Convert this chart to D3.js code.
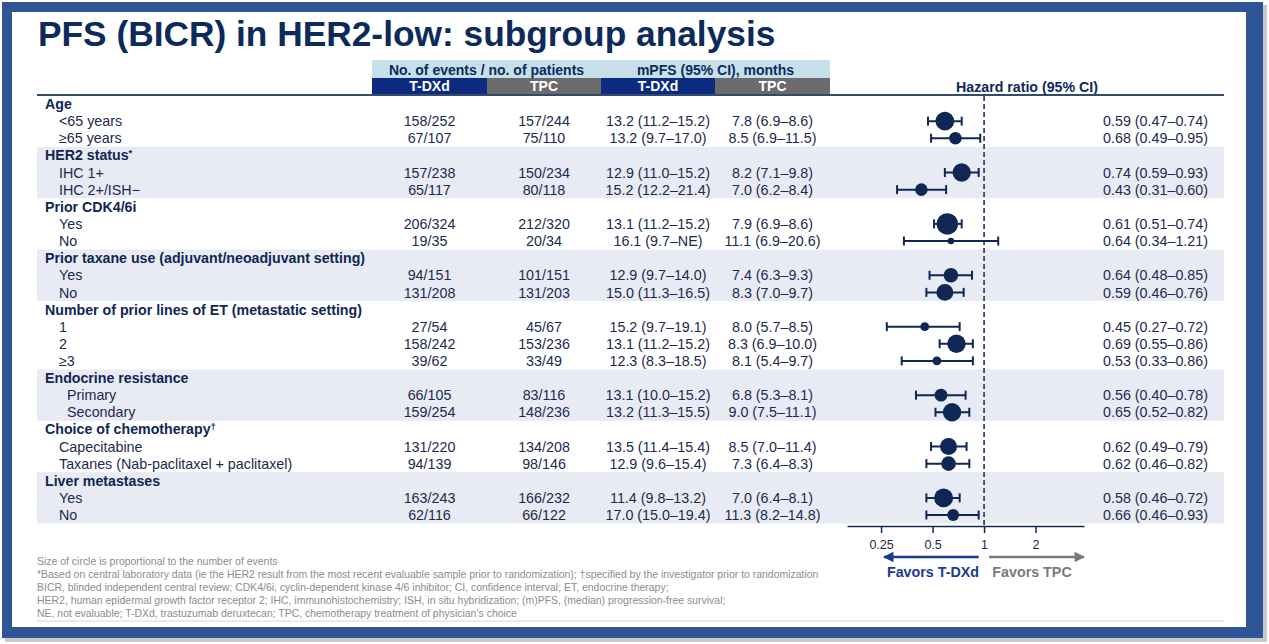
<!DOCTYPE html>
<html>
<head>
<meta charset="utf-8">
<script src="https://cdn.jsdelivr.net/npm/d3@7"></script>
<style>
  html, body { margin: 0; padding: 0; background: #ffffff; }
  svg { display: block; }
  text { font-family: "Liberation Sans", Arial, sans-serif; }
</style>
</head>
<body>
<svg id="chart" width="1269" height="644"></svg>
<script>
// ---------------- DATA ----------------
const title = "PFS (BICR) in HER2-low: subgroup analysis";
const groups = ["Age", "HER2 status", "Prior CDK4/6i", "Prior taxane use (adjuvant/neoadjuvant setting)",
  "Number of prior lines of ET (metastatic setting)", "Endocrine resistance", "Choice of chemotherapy", "Liver metastases"];
const groupMarks = ["", "*", "", "", "", "", "†", ""];
const shadedGroups = [false, true, false, true, false, true, false, true];
const subgroups = ["<65 years", "≥65 years", "IHC 1+", "IHC 2+/ISH−", "Yes", "No", "Yes", "No",
  "1", "2", "≥3", "Primary", "Secondary", "Capecitabine", "Taxanes (Nab-paclitaxel + paclitaxel)", "Yes", "No"];
const subgroupGroup = [0, 0, 1, 1, 2, 2, 3, 3, 4, 4, 4, 5, 5, 6, 6, 7, 7];
const eventsTDXd   = [158, 67, 157, 65, 206, 19, 94, 131, 27, 158, 39, 66, 159, 131, 94, 163, 62];
const patientsTDXd = [252, 107, 238, 117, 324, 35, 151, 208, 54, 242, 62, 105, 254, 220, 139, 243, 116];
const eventsTPC    = [157, 75, 150, 80, 212, 20, 101, 131, 45, 153, 33, 83, 148, 134, 98, 166, 66];
const patientsTPC  = [244, 110, 234, 118, 320, 34, 151, 203, 67, 236, 49, 116, 236, 208, 146, 232, 122];
const mpfsTDXd = ["13.2 (11.2–15.2)", "13.2 (9.7–17.0)", "12.9 (11.0–15.2)", "15.2 (12.2–21.4)", "13.1 (11.2–15.2)",
  "16.1 (9.7–NE)", "12.9 (9.7–14.0)", "15.0 (11.3–16.5)", "15.2 (9.7–19.1)", "13.1 (11.2–15.2)", "12.3 (8.3–18.5)",
  "13.1 (10.0–15.2)", "13.2 (11.3–15.5)", "13.5 (11.4–15.4)", "12.9 (9.6–15.4)", "11.4 (9.8–13.2)", "17.0 (15.0–19.4)"];
const mpfsTPC = ["7.8 (6.9–8.6)", "8.5 (6.9–11.5)", "8.2 (7.1–9.8)", "7.0 (6.2–8.4)", "7.9 (6.9–8.6)",
  "11.1 (6.9–20.6)", "7.4 (6.3–9.3)", "8.3 (7.0–9.7)", "8.0 (5.7–8.5)", "8.3 (6.9–10.0)", "8.1 (5.4–9.7)",
  "6.8 (5.3–8.1)", "9.0 (7.5–11.1)", "8.5 (7.0–11.4)", "7.3 (6.4–8.3)", "7.0 (6.4–8.1)", "11.3 (8.2–14.8)"];
const hr     = [0.59, 0.68, 0.74, 0.43, 0.61, 0.64, 0.64, 0.59, 0.45, 0.69, 0.53, 0.56, 0.65, 0.62, 0.62, 0.58, 0.66];
const hrLow  = [0.47, 0.49, 0.59, 0.31, 0.51, 0.34, 0.48, 0.46, 0.27, 0.55, 0.33, 0.40, 0.52, 0.49, 0.46, 0.46, 0.46];
const hrHigh = [0.74, 0.95, 0.93, 0.60, 0.74, 1.21, 0.85, 0.76, 0.72, 0.86, 0.86, 0.78, 0.82, 0.79, 0.82, 0.72, 0.93];
const xTicks = [0.25, 0.5, 1, 2];
const headerTop = ["No. of events / no. of patients", "mPFS (95% CI), months"];
const headerSub = ["T-DXd", "TPC", "T-DXd", "TPC"];
const footnotes = [
  "Size of circle is proportional to the number of events",
  "*Based on central laboratory data (ie the HER2 result from the most recent evaluable sample prior to randomization); †specified by the investigator prior to randomization",
  "BICR, blinded independent central review; CDK4/6i, cyclin-dependent kinase 4/6 inhibitor; CI, confidence interval; ET, endocrine therapy;",
  "HER2, human epidermal growth factor receptor 2; IHC, immunohistochemistry; ISH, in situ hybridization; (m)PFS, (median) progression-free survival;",
  "NE, not evaluable; T-DXd, trastuzumab deruxtecan; TPC, chemotherapy treatment of physician’s choice"
];

// ---------------- LAYOUT ----------------
const svg = d3.select("#chart");
const navy = "#0f2754";
const textCol = "#1b2a4e";
const blueHdr = "#0b2b7f";
const grayHdr = "#6b6b6b";
const lightHdr = "#c6dfe9";
const band = "#e8ebf3";

// frame
svg.append("rect").attr("x", 5).attr("y", 5).attr("width", 1262).attr("height", 637).attr("fill", "#c9c9c9");
svg.append("rect").attr("x", 2).attr("y", 2).attr("width", 1261).attr("height", 636).attr("fill", "#2f5597");
svg.append("rect").attr("x", 12).attr("y", 12).attr("width", 1234).attr("height", 615).attr("fill", "#ffffff");

// title
svg.append("text").attr("x", 38).attr("y", 46).attr("font-size", 35.3).attr("font-weight", "bold")
  .attr("fill", "#0c2a5c").text(title);

// build row list
const rows = [];
groups.forEach((g, gi) => {
  rows.push({ type: "group", gi, label: g, mark: groupMarks[gi] });
  subgroups.forEach((s, si) => { if (subgroupGroup[si] === gi) rows.push({ type: "sub", gi, si, label: s }); });
});
const rowStep = 17.125;
const y = d3.scaleLinear().domain([0, rows.length - 1]).range([104, 104 + (rows.length - 1) * rowStep]);
rows.forEach((r, i) => r.y = y(i));

const leftX = 37, rightX = 1224;

// shaded bands
groups.forEach((g, gi) => {
  if (!shadedGroups[gi]) return;
  const gr = rows.filter(r => r.gi === gi);
  const y0 = d3.min(gr, r => r.y) - rowStep / 2, y1 = d3.max(gr, r => r.y) + rowStep / 2;
  svg.append("rect").attr("x", leftX).attr("y", y0).attr("width", rightX - leftX).attr("height", y1 - y0).attr("fill", band);
});

// column headers
const colEdges = [372, 487, 601, 715, 830];
svg.append("rect").attr("x", colEdges[0]).attr("y", 60).attr("width", colEdges[4] - colEdges[0]).attr("height", 18).attr("fill", lightHdr);
headerTop.forEach((t, i) => {
  svg.append("text").attr("x", (colEdges[i * 2] + colEdges[i * 2 + 2]) / 2).attr("y", 69.5).attr("dy", "0.36em")
    .attr("text-anchor", "middle").attr("font-size", 14).attr("font-weight", "bold").attr("fill", "#0c2a5c").text(t);
});
headerSub.forEach((t, i) => {
  svg.append("rect").attr("x", colEdges[i]).attr("y", 78).attr("width", colEdges[i + 1] - colEdges[i]).attr("height", 16)
    .attr("fill", i % 2 === 0 ? blueHdr : grayHdr);
  svg.append("text").attr("x", (colEdges[i] + colEdges[i + 1]) / 2).attr("y", 86).attr("dy", "0.36em")
    .attr("text-anchor", "middle").attr("font-size", 14).attr("font-weight", "bold").attr("fill", "#ffffff").text(t);
});
svg.append("text").attr("x", 1027).attr("y", 87).attr("dy", "0.36em").attr("text-anchor", "middle")
  .attr("font-size", 14.2).attr("font-weight", "bold").attr("fill", "#0c2a5c").text("Hazard ratio (95% CI)");
svg.append("line").attr("x1", leftX).attr("x2", rightX).attr("y1", 95).attr("y2", 95)
  .attr("stroke", "#33496d").attr("stroke-width", 2);

// row labels and table values
const fs = 14.3;
rows.forEach(r => {
  if (r.type === "group") {
    const t = svg.append("text").attr("x", 45).attr("y", r.y).attr("dy", "0.36em").attr("font-size", 14.2)
      .attr("font-weight", "bold").attr("fill", navy).text(r.label);
    if (r.mark) t.append("tspan").attr("font-size", 9.5).attr("dy", "-0.5em").text(r.mark);
  } else {
    const indent = r.gi === 5 ? 67 : 59;
    svg.append("text").attr("x", indent).attr("y", r.y).attr("dy", "0.36em").attr("font-size", fs)
      .attr("fill", textCol).text(r.label);
    const si = r.si;
    const vals = [`${eventsTDXd[si]}/${patientsTDXd[si]}`, `${eventsTPC[si]}/${patientsTPC[si]}`, mpfsTDXd[si], mpfsTPC[si]];
    vals.forEach((v, ci) => {
      svg.append("text").attr("x", (colEdges[ci] + colEdges[ci + 1]) / 2).attr("y", r.y).attr("dy", "0.36em")
        .attr("text-anchor", "middle").attr("font-size", fs).attr("fill", textCol).text(v);
    });
    svg.append("text").attr("x", 1208).attr("y", r.y).attr("dy", "0.36em").attr("text-anchor", "end")
      .attr("font-size", fs).attr("fill", textCol)
      .text(`${hr[si].toFixed(2)} (${hrLow[si].toFixed(2)}–${hrHigh[si].toFixed(2)})`);
  }
});

// forest plot
const x = d3.scaleLog().domain([0.158, 3.84]).range([847, 1084]);
const axisY = 526;
const rScale = d3.scaleSqrt().domain([0, 418]).range([0, 10.7]);

svg.append("line").attr("x1", x(1)).attr("x2", x(1)).attr("y1", 96).attr("y2", axisY)
  .attr("stroke", navy).attr("stroke-width", 1.5).attr("stroke-dasharray", "5,3");

const subRows = rows.filter(r => r.type === "sub");
const fg = svg.append("g");
subRows.forEach(r => {
  const si = r.si;
  fg.append("line").attr("x1", x(hrLow[si])).attr("x2", x(hrHigh[si])).attr("y1", r.y).attr("y2", r.y)
    .attr("stroke", navy).attr("stroke-width", 2);
  [hrLow[si], hrHigh[si]].forEach(v => {
    fg.append("line").attr("x1", x(v)).attr("x2", x(v)).attr("y1", r.y - 4.5).attr("y2", r.y + 4.5)
      .attr("stroke", navy).attr("stroke-width", 2);
  });
  fg.append("circle").attr("cx", x(hr[si])).attr("cy", r.y).attr("r", rScale(eventsTDXd[si] + eventsTPC[si]))
    .attr("fill", navy);
});

// axis
const axis = d3.axisBottom(x).tickValues(xTicks).tickFormat(d3.format("")).tickSize(7).tickSizeOuter(0);
const ag = svg.append("g").attr("transform", `translate(0,${axisY})`).call(axis);
ag.select(".domain").attr("stroke", navy).attr("stroke-width", 1.5);
ag.selectAll(".tick line").attr("stroke", navy).attr("stroke-width", 1.5);
ag.selectAll(".tick text").attr("font-size", 12.5).attr("fill", textCol).attr("dy", "1.05em")
  .style("font-family", "'Liberation Sans', Arial, sans-serif");

// favors arrows
const arrowY = 557;
const defs = svg.append("defs");
function marker(id, color) {
  defs.append("marker").attr("id", id).attr("viewBox", "0 0 10 10").attr("refX", 9).attr("refY", 5)
    .attr("markerWidth", 5).attr("markerHeight", 4.2).attr("markerUnits", "strokeWidth").attr("orient", "auto")
    .append("path").attr("d", "M0,0 L10,5 L0,10 Z").attr("fill", color);
}
const favBlue = "#1b3a92", favGray = "#7a7a7a";
marker("arrBlue", favBlue); marker("arrGray", favGray);
svg.append("line").attr("x1", x(0.93)).attr("x2", x(0.26)).attr("y1", arrowY).attr("y2", arrowY)
  .attr("stroke", favBlue).attr("stroke-width", 2.5).attr("marker-end", "url(#arrBlue)");
svg.append("line").attr("x1", x(1.07)).attr("x2", x(3.84)).attr("y1", arrowY).attr("y2", arrowY)
  .attr("stroke", favGray).attr("stroke-width", 2.5).attr("marker-end", "url(#arrGray)");
svg.append("text").attr("x", 933).attr("y", 572).attr("dy", "0.36em").attr("text-anchor", "middle")
  .attr("font-size", 14.3).attr("font-weight", "bold").attr("fill", favBlue).text("Favors T-DXd");
svg.append("text").attr("x", 1032).attr("y", 572).attr("dy", "0.36em").attr("text-anchor", "middle")
  .attr("font-size", 14.3).attr("font-weight", "bold").attr("fill", favGray).text("Favors TPC");

// footnotes
const fnG = svg.append("g");
footnotes.forEach((f, i) => {
  fnG.append("text").attr("x", 0).attr("y", 561 + i * 13).attr("dy", "0.36em").attr("font-size", 10)
    .attr("fill", "#8c8c8c").style("font-family", "'Liberation Sans Narrow', 'Arial Narrow', 'Liberation Sans', sans-serif")
    .text(f);
});
const w2 = fnG.selectAll("text").nodes()[1].getComputedTextLength();
const sx = 783 / w2;
fnG.attr("transform", `translate(37,0) scale(${sx},1)`);
svg.append("line").attr("x1", leftX).attr("x2", rightX).attr("y1", 621).attr("y2", 621)
  .attr("stroke", "#d6d6d6").attr("stroke-width", 1);
</script>
</body>
</html>
